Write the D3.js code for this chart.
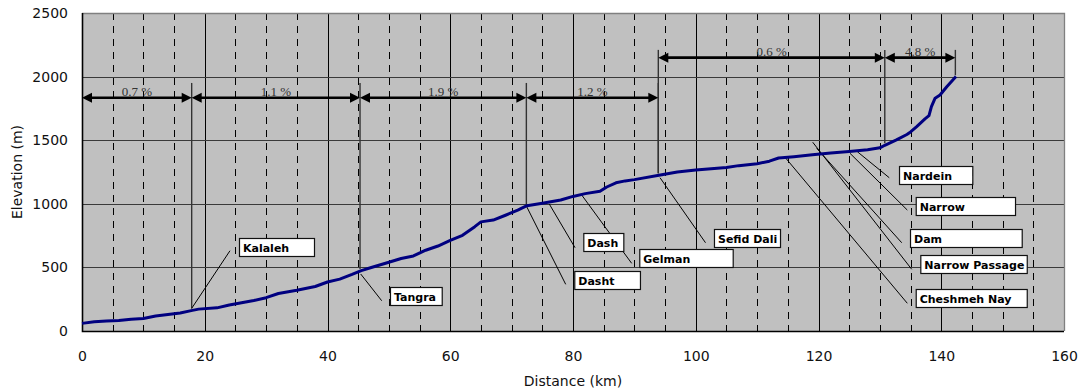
<!DOCTYPE html>
<html>
<head>
<meta charset="utf-8">
<script src="https://cdn.jsdelivr.net/npm/d3@7"></script>
<style>
  body { margin: 0; background: #fff; }
</style>
</head>
<body>
<div id="chart"></div>
<script>
// profile (km, m)
const dist = [0, 2, 4, 6, 8, 10, 12, 14, 16, 17.8, 19, 22, 24, 26, 28, 30, 32, 35, 38, 40, 42, 44, 45.5, 47, 50, 52, 54, 56, 58, 60, 62, 64, 65, 67, 69, 71, 72.5, 75, 78, 80, 82, 84.4, 85.5, 87, 88.5, 90, 94, 97, 100, 103, 105, 107, 110, 112, 113.5, 116, 119, 122, 125, 128, 130, 130.8, 132.7, 134.4, 135, 136, 137.35, 138, 138.4, 139, 139.8, 140.9, 142.4];
const elev = [60, 72, 78, 82, 92, 98, 118, 130, 142, 160, 172, 182, 205, 222, 240, 262, 295, 320, 350, 385, 408, 445, 475, 497, 540, 570, 590, 635, 668, 712, 752, 820, 858, 872, 910, 950, 985, 1005, 1030, 1058, 1080, 1098, 1132, 1165, 1180, 1190, 1225, 1250, 1265, 1278, 1285, 1300, 1315, 1335, 1360, 1370, 1385, 1400, 1412, 1425, 1440, 1460, 1502, 1545, 1565, 1606, 1667, 1693, 1764, 1830, 1855, 1920, 2000];

// gradient segments: from km, to km, label
const gradStart = [0, 17.87, 45.3, 72.4, 93.9, 130.8];
const gradEnd = [17.87, 45.3, 72.4, 93.9, 130.8, 142.3];
const gradLabel = ["0.7 %", "1.1 %", "1.9 %", "1.2 %", "0.6 %", "4.8 %"];
const gradRowElev = [1834, 1834, 1834, 1834, 2149, 2149];
const gradTickTop = [1950, 1950, 1950, 1950, 2210, 2210];

// place callouts: name, leader start (km, m), leader end (km, m), box left/right (km), box top (m)
const placeName = ["Kalaleh", "Tangra", "Dasht", "Dash", "Gelman", "Sefid Dali", "Nardein", "Narrow", "Dam", "Narrow Passage", "Cheshmeh Nay"];
const leaderFrom = [[17.87, 178], [45.41, 448], [72.46, 977], [76.14, 998], [81.42, 1069], [94.18, 1205], [126.32, 1410], [125.13, 1397], [119.71, 1436], [119.06, 1484], [114.54, 1366]];
const leaderTo = [[24.11, 631], [48.83, 238], [78.81, 367], [80.33, 655], [89.56, 532], [101.59, 694], [131.53, 1205], [134.47, 951], [133.56, 694], [135.19, 485], [134.47, 218]];
const boxLeft = [25.58, 50.18, 80.21, 81.68, 90.8, 102.97, 133.12, 135.84, 134.91, 136.59, 135.84];
const boxRight = [37.8, 58.61, 90.91, 88.2, 106.02, 113.73, 145.06, 152.02, 153.11, 153.93, 153.93];
const boxTop = [729, 344, 474, 768, 642, 802, 1300, 1051, 802, 598, 330];

const xTicks = [0, 20, 40, 60, 80, 100, 120, 140, 160];
const yTicks = [0, 500, 1000, 1500, 2000, 2500];

const W = 1078, H = 392;
const margin = { top: 13, right: 14, bottom: 61, left: 82 };

const svg = d3.select("#chart").append("svg")
    .attr("width", W)
    .attr("height", H);

const x = d3.scaleLinear().domain([0, 160]).range([margin.left, W - margin.right]);
const y = d3.scaleLinear().domain([0, 2500]).range([H - margin.bottom, margin.top]);

// plot background
svg.append("rect")
    .attr("x", x(0)).attr("y", y(2500))
    .attr("width", x(160) - x(0)).attr("height", y(0) - y(2500))
    .attr("fill", "#c0c0c0");

// minor dashed grid every 5 km
const minor = d3.range(5, 160, 5).filter(d => d % 20 !== 0);
svg.append("g").selectAll("line").data(minor).join("line")
    .attr("x1", d => Math.round(x(d)) + 0.5).attr("x2", d => Math.round(x(d)) + 0.5)
    .attr("y1", y(2500)).attr("y2", y(0))
    .attr("stroke", "#000").attr("stroke-width", 1)
    .attr("stroke-dasharray", "7,6");

// major grid
svg.append("g").selectAll("line").data(xTicks.slice(1, -1)).join("line")
    .attr("x1", d => Math.round(x(d)) + 0.5).attr("x2", d => Math.round(x(d)) + 0.5)
    .attr("y1", y(2500)).attr("y2", y(0))
    .attr("stroke", "#000").attr("stroke-width", 1);

svg.append("g").selectAll("line").data(yTicks.slice(1, -1)).join("line")
    .attr("x1", x(0)).attr("x2", x(160))
    .attr("y1", d => Math.round(y(d)) + 0.5).attr("y2", d => Math.round(y(d)) + 0.5)
    .attr("stroke", "#3a3a3a").attr("stroke-width", 1);

// top / right border
svg.append("path")
    .attr("d", `M${x(0)},${y(2500) + 0.5}H${x(160) + 0.5}V${y(0)}`)
    .attr("fill", "none").attr("stroke", "#808080").attr("stroke-width", 1.3);

// gradient verticals (between segments and at the end)
const bounds = gradEnd.map((d, i) => ({ km: d, top: gradTickTop[i] }));
bounds.push({ km: gradStart[4], top: gradTickTop[4] });
const elevAt = d3.scaleLinear().domain(dist).range(elev);
svg.append("g").selectAll("line").data(bounds).join("line")
    .attr("x1", d => x(d.km)).attr("x2", d => x(d.km))
    .attr("y1", d => y(d.top)).attr("y2", d => y(elevAt(d.km)) - 2)
    .attr("stroke", "#333").attr("stroke-width", 1.4);

// gradient arrows
const ah = 10, aw = 5;
const arrows = svg.append("g");
gradStart.forEach((s, i) => {
    const x0 = x(s), x1 = x(gradEnd[i]), yy = y(gradRowElev[i]);
    arrows.append("line")
        .attr("x1", x0 + ah - 1).attr("x2", x1 - ah + 1)
        .attr("y1", yy).attr("y2", yy)
        .attr("stroke", "#000").attr("stroke-width", 2.6);
    arrows.append("path")
        .attr("d", `M${x0},${yy}L${x0 + ah},${yy - aw}L${x0 + ah},${yy + aw}Z`)
        .attr("fill", "#000");
    arrows.append("path")
        .attr("d", `M${x1},${yy}L${x1 - ah},${yy - aw}L${x1 - ah},${yy + aw}Z`)
        .attr("fill", "#000");
    arrows.append("text")
        .attr("x", (x0 + x1) / 2).attr("y", yy - 1.5)
        .attr("text-anchor", "middle")
        .style("font", "13px 'Liberation Serif', 'Times New Roman', serif")
        .attr("fill", "#333")
        .text(gradLabel[i]);
});

// leader lines
svg.append("g").selectAll("line").data(placeName).join("line")
    .attr("x1", (d, i) => x(leaderFrom[i][0])).attr("y1", (d, i) => y(leaderFrom[i][1]))
    .attr("x2", (d, i) => x(leaderTo[i][0])).attr("y2", (d, i) => y(leaderTo[i][1]))
    .attr("stroke", "#000").attr("stroke-width", 1);

// axes lines
svg.append("path")
    .attr("d", `M${x(0) + 0.5},${y(2500)}V${y(0) + 0.5}H${x(160)}`)
    .attr("fill", "none").attr("stroke", "#000").attr("stroke-width", 1.6);

// profile
const line = d3.line().x((d, i) => x(dist[i])).y(d => y(d));
svg.append("path")
    .datum(elev)
    .attr("d", line)
    .attr("fill", "none")
    .attr("stroke", "#000080")
    .attr("stroke-width", 3)
    .attr("stroke-linejoin", "round");

// callout boxes
const boxH = 18;
const boxes = svg.append("g").selectAll("g").data(placeName).join("g");
boxes.append("rect")
    .attr("x", (d, i) => x(boxLeft[i]) + 0.5).attr("y", (d, i) => Math.round(y(boxTop[i])) + 0.5)
    .attr("width", (d, i) => x(boxRight[i]) - x(boxLeft[i]))
    .attr("height", boxH)
    .attr("fill", "#fff").attr("stroke", "#111").attr("stroke-width", 1.2);
boxes.append("text")
    .attr("x", (d, i) => x(boxLeft[i]) + 4)
    .attr("y", (d, i) => Math.round(y(boxTop[i])) + 13.5)
    .style("font", "bold 11px 'DejaVu Sans', sans-serif")
    .attr("fill", "#000")
    .text(d => d);

// axes
const tickFont = "14px 'DejaVu Sans', sans-serif";
const gx = svg.append("g")
    .attr("transform", `translate(0,${y(0)})`)
    .call(d3.axisBottom(x).tickValues(xTicks).tickSize(0).tickPadding(20));
gx.select(".domain").remove();
gx.selectAll("text").style("font", tickFont).attr("fill", "#111");

const gy = svg.append("g")
    .attr("transform", `translate(${x(0)},0)`)
    .call(d3.axisLeft(y).tickValues(yTicks).tickFormat(d3.format("d")).tickSize(0).tickPadding(14));
gy.select(".domain").remove();
gy.selectAll("text").style("font", tickFont).attr("fill", "#111");

svg.append("text")
    .attr("x", (x(0) + x(160)) / 2).attr("y", 386)
    .attr("text-anchor", "middle")
    .style("font", "14px 'DejaVu Sans', sans-serif")
    .attr("fill", "#111")
    .text("Distance (km)");

svg.append("text")
    .attr("transform", `translate(22,${(y(0) + y(2500)) / 2}) rotate(-90)`)
    .attr("text-anchor", "middle")
    .style("font", "14px 'DejaVu Sans', sans-serif")
    .attr("fill", "#111")
    .text("Elevation (m)");
</script>
</body>
</html>
